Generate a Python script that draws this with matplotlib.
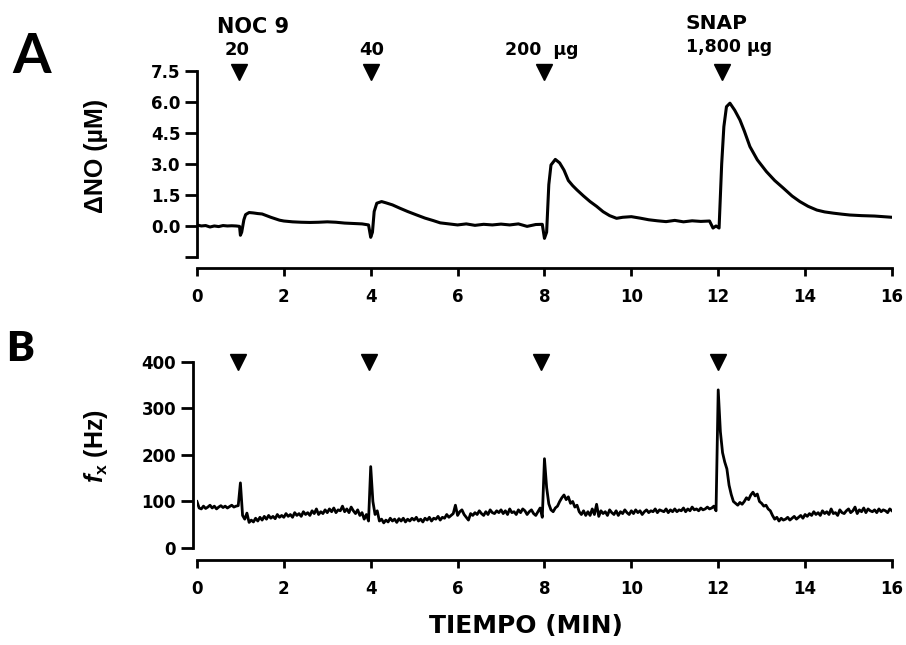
import matplotlib
matplotlib.use('Agg')
import matplotlib.pyplot as plt
import numpy as np

# Panel A: NO concentration trace (min, uM)
no_t = [0.0, 0.1, 0.2, 0.3, 0.4, 0.5, 0.6, 0.7, 0.8, 0.9, 0.98, 1.0, 1.03, 1.08, 1.12,
        1.2, 1.3, 1.4, 1.5, 1.6, 1.7, 1.8, 1.9, 2.0, 2.2, 2.4, 2.6, 2.8, 3.0, 3.2, 3.4,
        3.6, 3.8, 3.95, 4.0, 4.04, 4.08, 4.14, 4.25, 4.35, 4.5, 4.67, 4.85, 5.06, 5.25,
        5.44, 5.6, 5.8, 6.0, 6.2, 6.4, 6.6, 6.8, 7.0, 7.2, 7.4, 7.6, 7.8, 7.95, 8.0, 8.05,
        8.1, 8.15, 8.25, 8.35, 8.45, 8.55, 8.65, 8.75, 8.9, 9.05, 9.2, 9.35, 9.5, 9.66,
        9.8, 10.0, 10.2, 10.4, 10.6, 10.8, 11.0, 11.2, 11.4, 11.6, 11.8, 11.88, 11.95,
        12.02, 12.08, 12.13, 12.19, 12.27, 12.38, 12.5, 12.6, 12.73, 12.9, 13.11, 13.3,
        13.5, 13.7, 13.88, 14.07, 14.27, 14.45, 14.65, 14.85, 15.03, 15.3, 15.6, 15.8, 16.0]
no_v = [0.05, 0.0, 0.02, -0.05, 0.0, -0.03, 0.02, 0.0, 0.01, 0.0, -0.02, -0.45, -0.3, 0.3, 0.55,
        0.65, 0.63, 0.6, 0.58, 0.5, 0.42, 0.35, 0.28, 0.24, 0.2, 0.18, 0.17, 0.18, 0.2, 0.18, 0.14,
        0.12, 0.1, 0.05, -0.55, -0.3, 0.7, 1.1, 1.18, 1.12, 1.02, 0.86, 0.7, 0.53, 0.38,
        0.26, 0.15, 0.1, 0.05, 0.1, 0.03, 0.08, 0.05, 0.09, 0.05, 0.1, -0.02, 0.07, 0.08, -0.6, -0.3,
        2.0, 2.95, 3.22, 3.05, 2.7, 2.2, 1.95, 1.74, 1.45, 1.18, 0.95, 0.69, 0.5, 0.37,
        0.42, 0.45, 0.38, 0.3, 0.25, 0.21, 0.27, 0.2, 0.25, 0.22, 0.24, -0.1, 0.0,
        -0.1, 3.0, 4.8, 5.77, 5.94, 5.6, 5.13, 4.6, 3.84, 3.2, 2.63, 2.2,
        1.83, 1.45, 1.18, 0.95, 0.77, 0.68, 0.62, 0.57, 0.53, 0.5, 0.48, 0.45, 0.42]

# Panel B: resonance frequency (Hz), one row per minute, sampled every 0.05 min
fx_t = np.round(np.arange(0, 16.001, 0.05), 2)
fx_v = [100, 86, 84, 90, 85, 88, 92, 86, 90, 84, 88, 91, 87, 90, 86, 89, 92, 88, 90, 91,
        140, 70, 62, 75, 55, 60, 56, 64, 58, 66, 60, 68, 62, 70, 64, 68, 63, 72, 66, 70,
        66, 74, 68, 72, 66, 76, 70, 74, 68, 78, 72, 76, 70, 80, 74, 84, 72, 78, 74, 82,
        76, 84, 78, 86, 76, 82, 80, 90, 78, 84, 76, 88, 80, 74, 82, 70, 76, 62, 72, 58,
        175, 100, 72, 80, 58, 62, 54, 60, 56, 64, 58, 62, 55, 63, 58, 64, 56, 62, 58, 64,
        60, 66, 58, 62, 56, 64, 60, 66, 58, 64, 62, 68, 60, 66, 64, 72, 66, 70, 74, 92,
        70, 78, 82, 72, 66, 60, 74, 70, 76, 72, 80, 74, 70, 78, 72, 82, 76, 74, 80, 76,
        82, 74, 80, 72, 84, 76, 78, 72, 82, 76, 84, 80, 72, 78, 82, 74, 70, 78, 86, 66,
        192, 130, 95, 82, 78, 86, 90, 100, 108, 114, 104, 110, 96, 100, 88, 92, 78, 72, 80, 70,
        78, 70, 84, 72, 94, 68, 80, 74, 78, 70, 82, 76, 72, 80, 70, 78, 74, 82, 76, 72,
        80, 74, 82, 76, 80, 72, 78, 82, 76, 80, 78, 84, 76, 82, 80, 78, 84, 76, 82, 78,
        84, 78, 82, 80, 86, 78, 84, 80, 88, 82, 84, 80, 86, 82, 84, 88, 84, 86, 90, 80,
        340, 250, 205, 185, 170, 135, 115, 100, 96, 92, 98, 94, 100, 108, 104, 114, 120, 112, 116, 100,
        96, 90, 92, 84, 80, 70, 62, 66, 58, 64, 60, 62, 66, 60, 64, 68, 62, 66, 70, 64,
        72, 68, 74, 70, 78, 72, 76, 70, 80, 74, 78, 72, 84, 74, 76, 70, 82, 76, 74, 80,
        84, 76, 80, 88, 74, 82, 78, 86, 76, 84, 80, 78, 82, 76, 84, 78, 82, 80, 76, 84,
        80]

# dose markers
arrows_a = [0.97, 4.0, 7.99, 12.08]
arrows_b = [0.95, 3.95, 7.93, 12.0]
no_ticks = [-1.5, 0.0, 1.5, 3.0, 4.5, 6.0, 7.5]
no_labels = ['', '0.0', '1.5', '3.0', '4.5', '6.0', '7.5']
fx_ticks = [0, 100, 200, 300, 400]
time_ticks = [0, 2, 4, 6, 8, 10, 12, 14, 16]

plt.rcParams['font.family'] = ['DejaVu Sans']
plt.rcParams['font.weight'] = 'bold'
plt.rcParams['mathtext.fontset'] = 'custom'
plt.rcParams['mathtext.it'] = 'Liberation Sans:bold:italic'
plt.rcParams['mathtext.bf'] = 'Liberation Sans:bold'
plt.rcParams['mathtext.rm'] = 'Liberation Sans:bold'

fig = plt.figure(figsize=(9.06, 6.45), dpi=100)
axA = fig.add_axes([0.2174, 0.6016, 0.7671, 0.2884])
axB = fig.add_axes([0.2174, 0.1504, 0.7671, 0.2884])

def style(ax, xoff, yoff):
    for s in ['top', 'right']:
        ax.spines[s].set_visible(False)
    ax.spines['left'].set_linewidth(2.0)
    ax.spines['bottom'].set_linewidth(2.0)
    ax.spines['bottom'].set_position(('outward', xoff))
    ax.spines['left'].set_position(('outward', yoff))
    ax.spines['bottom'].set_bounds(0, 16)
    ax.tick_params(axis='both', direction='out', width=2.0, labelsize=12)
    ax.tick_params(axis='y', length=9, pad=3)
    ax.tick_params(axis='x', length=6, pad=8)
    ax.set_xlim(0, 16)
    ax.set_xticks(time_ticks)

# Panel A
axA.plot(no_t, no_v, color='black', lw=2.2)
axA.set_ylim(-1.5, 7.5)
axA.set_yticks(no_ticks)
axA.set_yticklabels(no_labels)
style(axA, 8, 0)
axA.spines['left'].set_bounds(-1.5, 7.5)
axA.plot(arrows_a, [7.45] * 4, 'v', color='black', ms=12, clip_on=False)
axA.set_ylabel('ΔNO (µM)', family='Liberation Sans', fontsize=18, fontweight='bold')
axA.yaxis.set_label_coords(-0.128, 0.543)
axA.text(1.29, 9.35, 'NOC 9', ha='center', va='baseline', fontsize=15)
axA.text(0.93, 8.27, '20', ha='center', va='baseline', fontsize=13)
axA.text(4.02, 8.27, '40', ha='center', va='baseline', fontsize=13)
axA.text(7.93, 8.27, '200  µg', ha='center', va='baseline', fontsize=12.5)
axA.text(11.96, 9.51, 'SNAP', ha='center', va='baseline', fontsize=14.5)
axA.text(12.25, 8.4, '1,800 µg', ha='center', va='baseline', fontsize=12.5)

# Panel B
axB.plot(fx_t, fx_v, color='black', lw=2.0)
axB.set_ylim(0, 400)
axB.set_yticks(fx_ticks)
style(axB, 9, 3)
axB.spines['left'].set_bounds(0, 400)
axB.plot(arrows_b, [400] * 4, 'v', color='black', ms=11, clip_on=False)
axB.set_ylabel(r'$f_{\mathbf{x}}$ (Hz)', family='Liberation Sans', fontsize=18, fontweight='bold')
axB.yaxis.set_label_coords(-0.1245, 0.548)

fig.text(0.035, 0.912, 'A', fontsize=40, family='Lato', fontweight='bold',
         ha='center', va='center')
fig.text(0.022, 0.459, 'B', fontsize=30, family='Lato', fontweight='heavy',
         ha='center', va='center')
fig.text(0.58, 0.018, 'TIEMPO (MIN)', fontsize=18, fontweight='heavy',
         ha='center', va='baseline')

fig.savefig('out.png', dpi=100)
